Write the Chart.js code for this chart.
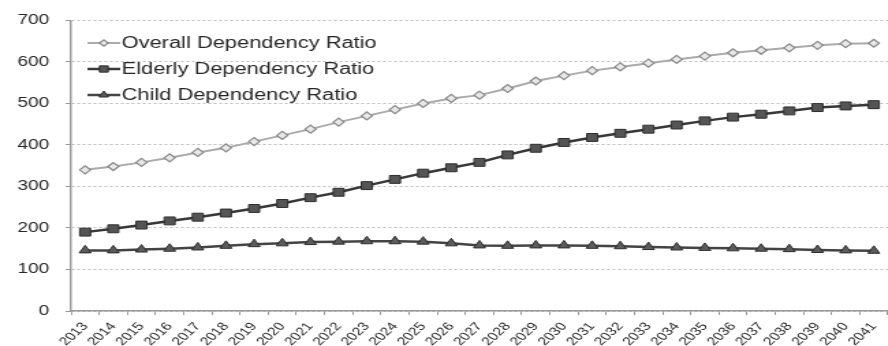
<!DOCTYPE html>
<html>
<head>
<meta charset="utf-8">
<script src="https://cdn.jsdelivr.net/npm/chart.js@4/dist/chart.umd.min.js"></script>
<style>
  html, body { margin: 0; padding: 0; background: #fff; overflow: hidden; }
  #wrap { width: 650px; height: 346px; transform: scaleX(1.366); transform-origin: 0 0; }
</style>
</head>
<body>
<div id="wrap"><canvas id="c" width="650" height="346"></canvas></div>
<script>
// Projected dependency ratios, 2013–2041
const years = ['2013','2014','2015','2016','2017','2018','2019','2020','2021','2022',
               '2023','2024','2025','2026','2027','2028','2029','2030','2031','2032',
               '2033','2034','2035','2036','2037','2038','2039','2040','2041'];
const overallRatio = [340,348,358,369,382,393,408,423,438,455,470,485,500,512,520,
                      536,554,567,579,588,597,606,614,622,628,634,640,644,645];
const elderlyRatio = [190,198,207,217,226,236,247,259,273,286,302,317,332,345,358,
                      376,392,406,418,428,438,448,458,467,474,482,490,494,497];
const childRatio   = [146,146,148,150,153,157,161,163,166,167,168,168,167,163,158,
                      157,158,158,157,156,154,153,152,151,150,149,147,146,145];
const yTicks = [0,100,200,300,400,500,600,700];
const seriesNames = ['Overall Dependency Ratio','Elderly Dependency Ratio','Child Dependency Ratio'];

const FONT = '"Liberation Sans", Arial, sans-serif';

// Legend drawn inside the plot area, stacked top-left
const insetLegend = {
  id: 'insetLegend',
  afterDraw(chart) {
    const ctx = chart.ctx;
    const x0 = 64, lineLen = 24, rowY = [43, 69, 95];
    ctx.save();
    chart.data.datasets.forEach((ds, i) => {
      const y = rowY[i];
      ctx.strokeStyle = ds.borderColor;
      ctx.lineWidth = ds.borderWidth;
      ctx.beginPath();
      ctx.moveTo(x0, y);
      ctx.lineTo(x0 + lineLen, y);
      ctx.stroke();
      const opts = {
        pointStyle: ds.pointStyle,
        radius: ds.pointRadius * 0.8,
        rotation: 0,
        borderWidth: ds.pointBorderWidth
      };
      ctx.fillStyle = ds.pointBackgroundColor;
      ctx.strokeStyle = ds.pointBorderColor;
      ctx.lineWidth = ds.pointBorderWidth;
      Chart.helpers.drawPoint(ctx, opts, x0 + lineLen / 2, y);
      ctx.fillStyle = '#262626';
      ctx.font = '16px ' + FONT;
      ctx.textAlign = 'left';
      ctx.textBaseline = 'middle';
      ctx.fillText(ds.label, x0 + lineLen + 1, y + 1);
    });
    ctx.restore();
  }
};

new Chart(document.getElementById('c'), {
  type: 'line',
  data: {
    labels: years,
    datasets: [
      {
        label: seriesNames[0],
        data: overallRatio,
        borderColor: '#ababab',
        borderWidth: 2,
        pointStyle: 'rectRot',
        pointRadius: 4,
        pointBackgroundColor: '#e8e8e8',
        pointBorderColor: '#878787',
        pointBorderWidth: 1.2,
        tension: 0
      },
      {
        label: seriesNames[1],
        data: elderlyRatio,
        borderColor: '#383838',
        borderWidth: 2.5,
        pointStyle: 'rect',
        pointRadius: 5.6,
        pointBackgroundColor: '#555555',
        pointBorderColor: '#2e2e2e',
        pointBorderWidth: 1,
        tension: 0
      },
      {
        label: seriesNames[2],
        data: childRatio,
        borderColor: '#444444',
        borderWidth: 2.5,
        pointStyle: 'triangle',
        pointRadius: 5,
        pointBackgroundColor: '#5c5c5c',
        pointBorderColor: '#2e2e2e',
        pointBorderWidth: 1,
        tension: 0
      }
    ]
  },
  options: {
    responsive: false,
    animation: false,
    devicePixelRatio: 1,
    layout: { autoPadding: false, padding: { top: 19, right: 0, left: 0, bottom: 0 } },
    plugins: {
      legend: { display: false },
      tooltip: { enabled: false }
    },
    scales: {
      x: {
        offset: true,
        grid: {
          offset: true,
          drawOnChartArea: false,
          drawTicks: true,
          tickLength: 4,
          color: '#9a9a9a'
        },
        border: { display: true, color: '#9a9a9a', width: 1.5 },
        ticks: {
          minRotation: 50,
          maxRotation: 50,
          autoSkip: false,
          padding: 5,
          color: '#262626',
          font: { family: FONT, size: 11.5 }
        },
        afterFit(scale) {
          scale.height = 35;
          scale.paddingLeft = 0;
          scale.paddingRight = 0;
        }
      },
      y: {
        min: 0,
        max: 700,
        afterBuildTicks(scale) { scale.ticks = yTicks.map(v => ({ value: v })); },
        grid: {
          color: '#bdbdbd',
          lineWidth: 1,
          tickLength: 4,
          drawTicks: true,
          tickColor: '#9a9a9a'
        },
        border: { display: true, color: '#9a9a9a', width: 1.5, dash: [2, 2] },
        ticks: {
          padding: 12,
          color: '#262626',
          font: { family: FONT, size: 14 }
        },
        afterFit(scale) { scale.width = 52; }
      }
    }
  },
  plugins: [insetLegend]
});
</script>
</body>
</html>
